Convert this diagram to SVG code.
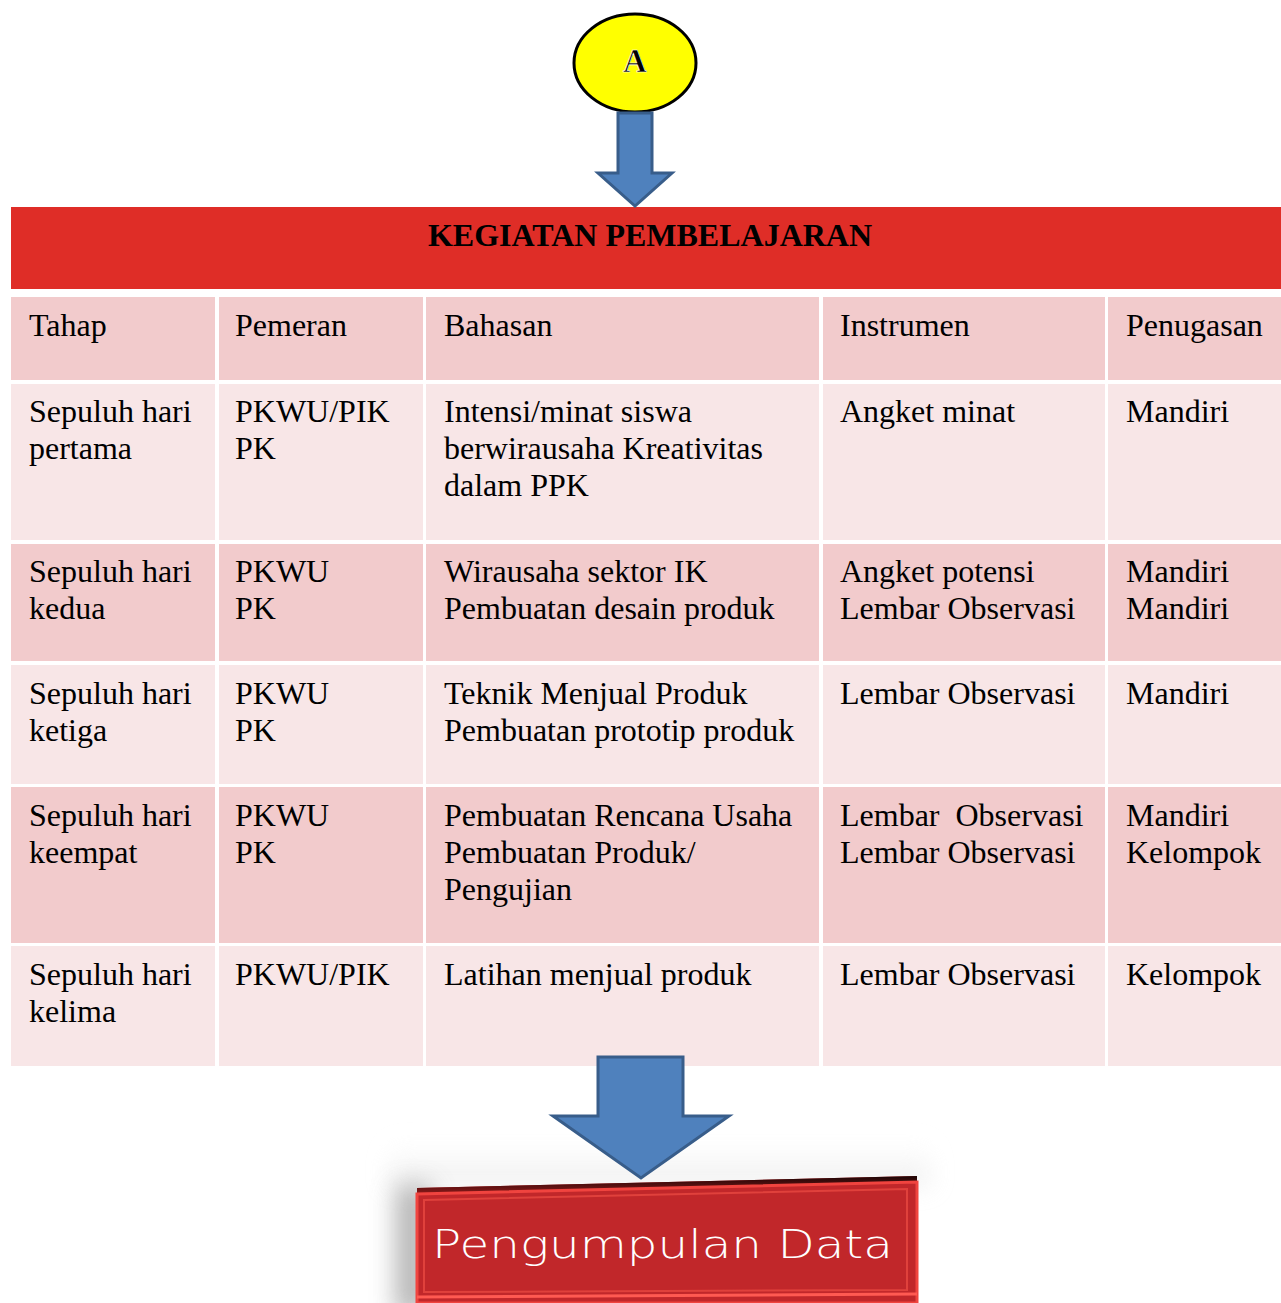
<svg xmlns="http://www.w3.org/2000/svg" width="1281" height="1303" viewBox="0 0 1281 1303">
  <style>
    .cell { font-family: "Liberation Serif", "Times New Roman", serif; font-size: 32px; fill: #000; }
    .title { font-family: "Liberation Serif", "Times New Roman", serif; font-size: 32px; font-weight: bold; fill: #000; }
    .dark { fill: #F2CBCC; }
    .light { fill: #F8E6E7; }
    .arrow { fill: #4F81BD; stroke: #385D8A; stroke-width: 3; stroke-linejoin: miter; }
  </style>
  <defs>
    <filter id="soft" x="-100%" y="-100%" width="300%" height="300%">
      <feGaussianBlur stdDeviation="12"/>
    </filter>
    <linearGradient id="topEdge" x1="0" y1="0" x2="0" y2="1">
      <stop offset="0" stop-color="#1a0505"/>
      <stop offset="1" stop-color="#8e1a1a"/>
    </linearGradient>
    <linearGradient id="fade" x1="0" y1="0" x2="0" y2="1">
      <stop offset="0" stop-color="#ffffff" stop-opacity="0"/>
      <stop offset="1" stop-color="#d8d8d8" stop-opacity="1"/>
    </linearGradient>
  </defs>
  <rect width="1281" height="1303" fill="#ffffff"/>

  <!-- start node -->
  <g id="node-a">
    <ellipse cx="635" cy="63" rx="61" ry="49" fill="#FFFF00" stroke="#000" stroke-width="3"/>
    <text x="635" y="72" text-anchor="middle" font-family="Liberation Serif, serif" font-size="33" font-weight="bold" fill="#000" stroke="#fff" stroke-width="0.6">A</text>
  </g>

  <!-- activity table -->
  <g id="table">
    <rect x="11" y="207" width="1270" height="82" fill="#DF2D27"/>
    <text class="title" x="650" y="246" text-anchor="middle">KEGIATAN PEMBELAJARAN</text>

    <!-- header row -->
    <g id="row-header">
      <rect class="dark" x="11" y="297" width="204" height="83"/>
      <rect class="dark" x="219" y="297" width="204" height="83"/>
      <rect class="dark" x="426" y="297" width="393" height="83"/>
      <rect class="dark" x="823" y="297" width="282" height="83"/>
      <rect class="dark" x="1108" y="297" width="173" height="83"/>
      <text class="cell" x="29" y="336">Tahap</text>
      <text class="cell" x="235" y="336">Pemeran</text>
      <text class="cell" x="444" y="336">Bahasan</text>
      <text class="cell" x="840" y="336">Instrumen</text>
      <text class="cell" x="1126" y="336">Penugasan</text>
    </g>

    <g id="row-1">
      <rect class="light" x="11" y="384" width="204" height="156"/>
      <rect class="light" x="219" y="384" width="204" height="156"/>
      <rect class="light" x="426" y="384" width="393" height="156"/>
      <rect class="light" x="823" y="384" width="282" height="156"/>
      <rect class="light" x="1108" y="384" width="173" height="156"/>
      <text class="cell" x="29" y="422">Sepuluh hari</text>
      <text class="cell" x="29" y="459">pertama</text>
      <text class="cell" x="235" y="422">PKWU/PIK</text>
      <text class="cell" x="235" y="459">PK</text>
      <text class="cell" x="444" y="422">Intensi/minat siswa</text>
      <text class="cell" x="444" y="459">berwirausaha Kreativitas</text>
      <text class="cell" x="444" y="496">dalam PPK</text>
      <text class="cell" x="840" y="422">Angket minat</text>
      <text class="cell" x="1126" y="422">Mandiri</text>
    </g>

    <g id="row-2">
      <rect class="dark" x="11" y="544" width="204" height="117"/>
      <rect class="dark" x="219" y="544" width="204" height="117"/>
      <rect class="dark" x="426" y="544" width="393" height="117"/>
      <rect class="dark" x="823" y="544" width="282" height="117"/>
      <rect class="dark" x="1108" y="544" width="173" height="117"/>
      <text class="cell" x="29" y="582">Sepuluh hari</text>
      <text class="cell" x="29" y="619">kedua</text>
      <text class="cell" x="235" y="582">PKWU</text>
      <text class="cell" x="235" y="619">PK</text>
      <text class="cell" x="444" y="582">Wirausaha sektor IK</text>
      <text class="cell" x="444" y="619">Pembuatan desain produk</text>
      <text class="cell" x="840" y="582">Angket potensi</text>
      <text class="cell" x="840" y="619">Lembar Observasi</text>
      <text class="cell" x="1126" y="582">Mandiri</text>
      <text class="cell" x="1126" y="619">Mandiri</text>
    </g>

    <g id="row-3">
      <rect class="light" x="11" y="665" width="204" height="119"/>
      <rect class="light" x="219" y="665" width="204" height="119"/>
      <rect class="light" x="426" y="665" width="393" height="119"/>
      <rect class="light" x="823" y="665" width="282" height="119"/>
      <rect class="light" x="1108" y="665" width="173" height="119"/>
      <text class="cell" x="29" y="704">Sepuluh hari</text>
      <text class="cell" x="29" y="741">ketiga</text>
      <text class="cell" x="235" y="704">PKWU</text>
      <text class="cell" x="235" y="741">PK</text>
      <text class="cell" x="444" y="704">Teknik Menjual Produk</text>
      <text class="cell" x="444" y="741">Pembuatan prototip produk</text>
      <text class="cell" x="840" y="704">Lembar Observasi</text>
      <text class="cell" x="1126" y="704">Mandiri</text>
    </g>

    <g id="row-4">
      <rect class="dark" x="11" y="787" width="204" height="156"/>
      <rect class="dark" x="219" y="787" width="204" height="156"/>
      <rect class="dark" x="426" y="787" width="393" height="156"/>
      <rect class="dark" x="823" y="787" width="282" height="156"/>
      <rect class="dark" x="1108" y="787" width="173" height="156"/>
      <text class="cell" x="29" y="826">Sepuluh hari</text>
      <text class="cell" x="29" y="863">keempat</text>
      <text class="cell" x="235" y="826">PKWU</text>
      <text class="cell" x="235" y="863">PK</text>
      <text class="cell" x="444" y="826">Pembuatan Rencana Usaha</text>
      <text class="cell" x="444" y="863">Pembuatan Produk/</text>
      <text class="cell" x="444" y="900">Pengujian</text>
      <text class="cell" x="840" y="826" xml:space="preserve">Lembar  Observasi</text>
      <text class="cell" x="840" y="863">Lembar Observasi</text>
      <text class="cell" x="1126" y="826">Mandiri</text>
      <text class="cell" x="1126" y="863">Kelompok</text>
    </g>

    <g id="row-5">
      <rect class="light" x="11" y="946" width="204" height="120"/>
      <rect class="light" x="219" y="946" width="204" height="120"/>
      <rect class="light" x="426" y="946" width="393" height="120"/>
      <rect class="light" x="823" y="946" width="282" height="120"/>
      <rect class="light" x="1108" y="946" width="173" height="120"/>
      <text class="cell" x="29" y="985">Sepuluh hari</text>
      <text class="cell" x="29" y="1022">kelima</text>
      <text class="cell" x="235" y="985">PKWU/PIK</text>
      <text class="cell" x="444" y="985">Latihan menjual produk</text>
      <text class="cell" x="840" y="985">Lembar Observasi</text>
      <text class="cell" x="1126" y="985">Kelompok</text>
    </g>
  </g>

  <!-- final node: tilted 3D red box with soft shadow -->
  <g id="node-data">
    <rect x="390" y="1140" width="540" height="45" fill="url(#fade)" opacity="0.6" filter="url(#soft)"/>
    <rect x="395" y="1185" width="36" height="130" fill="#a0a0a0" opacity="0.75" filter="url(#soft)"/>
    <polygon points="417,1188 917,1176 917,1303 417,1303" fill="#C1272A"/>
    <polygon points="417,1188 917,1176 917,1182 417,1194" fill="url(#topEdge)"/>
    <polygon points="417,1194 917,1182 917,1303 417,1303" fill="none" stroke="#F0443F" stroke-width="3"/>
    <polygon points="424,1200 907,1189 907,1290 424,1292" fill="none" stroke="#E0413C" stroke-width="2"/>
    <line x1="417" y1="1297" x2="917" y2="1294" stroke="#FF5A52" stroke-width="3"/>
    <text x="432" y="1258" font-family="'DejaVu Sans ExtraLight', 'DejaVu Sans', sans-serif" font-weight="200" font-size="39" fill="#ffffff" textLength="461" lengthAdjust="spacingAndGlyphs">Pengumpulan Data</text>
  </g>

  <!-- connectors, drawn over the table edges -->
  <g id="connectors">
    <polygon class="arrow" points="618,113 652,113 652,173 672,173 635,206 598,173 618,173"/>
    <polygon class="arrow" points="598,1057 683,1057 683,1116 729,1116 641,1178 553,1116 598,1116"/>
  </g>
</svg>
